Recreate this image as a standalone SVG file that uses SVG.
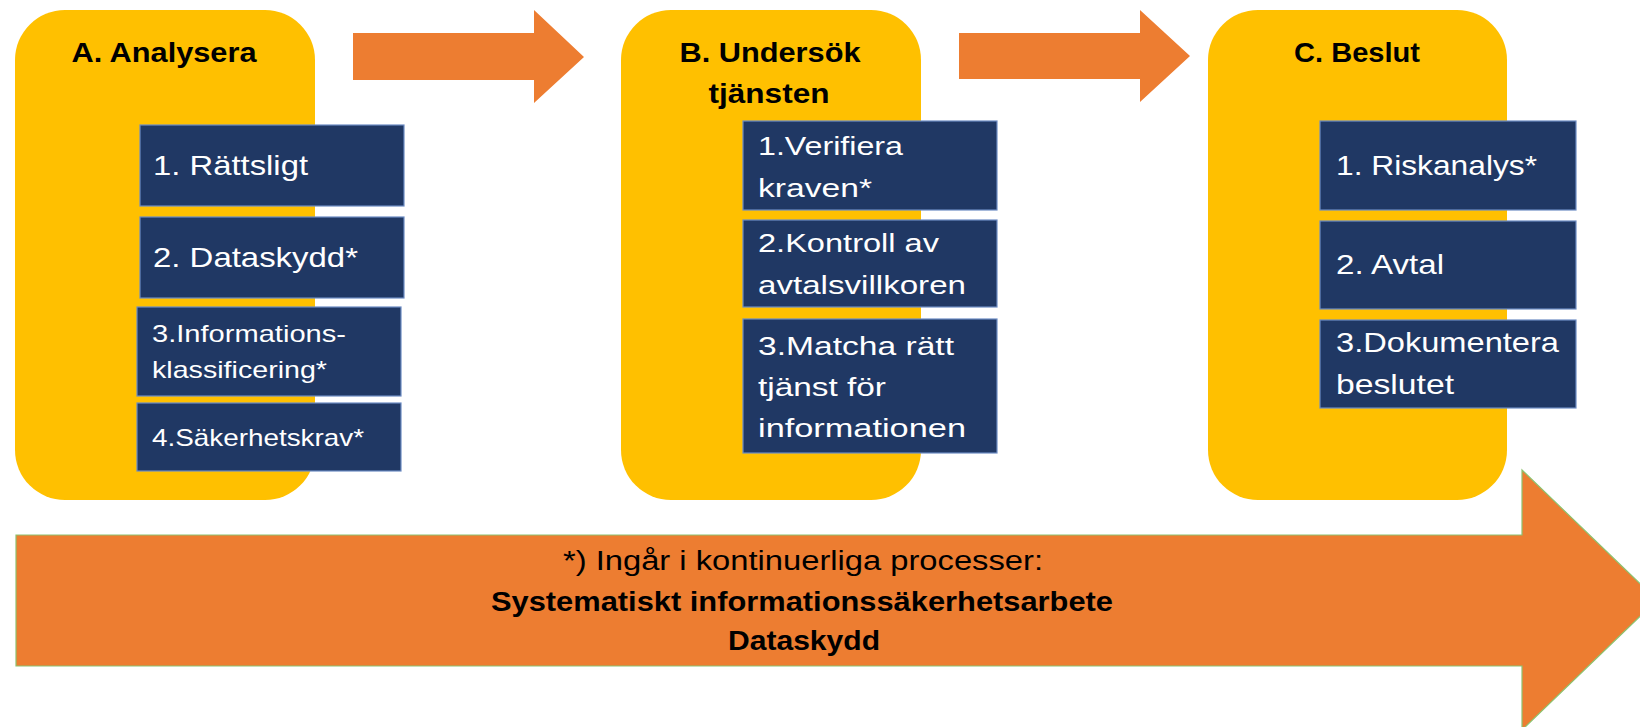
<svg xmlns="http://www.w3.org/2000/svg" width="1640" height="727" viewBox="0 0 1640 727">
<style>
.stage{fill:#FFC000}
.box{fill:#203864;stroke:#6D8CC4;stroke-width:1.2}
.arrow{fill:#ED7D31}
.big{fill:#ED7D31;stroke:#8DC26F;stroke-width:1.2}
.title{font-family:"Liberation Sans",Arial,sans-serif;font-weight:bold;font-size:28px;fill:#000;text-anchor:middle}
.t{font-family:"Liberation Sans",Arial,sans-serif;fill:#fff}
.foot{font-family:"Liberation Sans",Arial,sans-serif;font-size:27px;fill:#000;text-anchor:middle}
</style>
<rect width="1640" height="727" fill="#fff"/>
<g id="connectors">
<polygon class="arrow" points="353,33 534,33 534,10 584,57 534,103 534,80 353,80"/>
<polygon class="arrow" points="959,33 1140,33 1140,10 1190,56 1140,102 1140,79 959,79"/>
</g>
<g id="stageA">
<rect class="stage" x="15" y="10" width="300" height="490" rx="50" ry="50"/>
<text class="title" x="164" y="62" textLength="185" lengthAdjust="spacingAndGlyphs">A. Analysera</text>
</g>
<g id="stageB">
<rect class="stage" x="621" y="10" width="300" height="490" rx="50" ry="50"/>
<text class="title" x="770" y="62" textLength="181" lengthAdjust="spacingAndGlyphs">B. Undersök</text>
<text class="title" x="769" y="103" textLength="121" lengthAdjust="spacingAndGlyphs">tjänsten</text>
</g>
<g id="stageC">
<rect class="stage" x="1208" y="10" width="299" height="490" rx="50" ry="50"/>
<text class="title" x="1357" y="62" textLength="126" lengthAdjust="spacingAndGlyphs">C. Beslut</text>
</g>
<g id="A1">
<rect class="box" x="140" y="125" width="264" height="81"/>
<text class="t" x="153" y="175" font-size="28" textLength="155" lengthAdjust="spacingAndGlyphs">1. Rättsligt</text>
</g>
<g id="A2">
<rect class="box" x="140" y="217" width="264" height="81"/>
<text class="t" x="153" y="267" font-size="28" textLength="205" lengthAdjust="spacingAndGlyphs">2. Dataskydd*</text>
</g>
<g id="A3">
<rect class="box" x="137" y="307" width="264" height="89"/>
<text class="t" x="152" y="342" font-size="24" textLength="194" lengthAdjust="spacingAndGlyphs">3.Informations-</text>
<text class="t" x="152" y="378" font-size="24" textLength="175" lengthAdjust="spacingAndGlyphs">klassificering*</text>
</g>
<g id="A4">
<rect class="box" x="137" y="403" width="264" height="68"/>
<text class="t" x="152" y="446" font-size="24" textLength="212" lengthAdjust="spacingAndGlyphs">4.Säkerhetskrav*</text>
</g>
<g id="B1">
<rect class="box" x="743" y="121" width="254" height="89"/>
<text class="t" x="758" y="155" font-size="26" textLength="145" lengthAdjust="spacingAndGlyphs">1.Verifiera</text>
<text class="t" x="758" y="197" font-size="26" textLength="114" lengthAdjust="spacingAndGlyphs">kraven*</text>
</g>
<g id="B2">
<rect class="box" x="743" y="220" width="254" height="87"/>
<text class="t" x="758" y="252" font-size="26" textLength="181" lengthAdjust="spacingAndGlyphs">2.Kontroll av</text>
<text class="t" x="758" y="294" font-size="26" textLength="208" lengthAdjust="spacingAndGlyphs">avtalsvillkoren</text>
</g>
<g id="B3">
<rect class="box" x="743" y="319" width="254" height="134"/>
<text class="t" x="758" y="355" font-size="26" textLength="196" lengthAdjust="spacingAndGlyphs">3.Matcha rätt</text>
<text class="t" x="758" y="396" font-size="26" textLength="128" lengthAdjust="spacingAndGlyphs">tjänst för</text>
<text class="t" x="758" y="437" font-size="26" textLength="208" lengthAdjust="spacingAndGlyphs">informationen</text>
</g>
<g id="C1">
<rect class="box" x="1320" y="121" width="256" height="89"/>
<text class="t" x="1336" y="175" font-size="28" textLength="201" lengthAdjust="spacingAndGlyphs">1. Riskanalys*</text>
</g>
<g id="C2">
<rect class="box" x="1320" y="221" width="256" height="88"/>
<text class="t" x="1336" y="274" font-size="28" textLength="108" lengthAdjust="spacingAndGlyphs">2. Avtal</text>
</g>
<g id="C3">
<rect class="box" x="1320" y="320" width="256" height="88"/>
<text class="t" x="1336" y="352" font-size="28" textLength="223" lengthAdjust="spacingAndGlyphs">3.Dokumentera</text>
<text class="t" x="1336" y="394" font-size="28" textLength="118" lengthAdjust="spacingAndGlyphs">beslutet</text>
</g>
<g id="continuous">
<polygon class="big" points="16,535 1522,535 1522,470 1657,600 1522,730 1522,666 16,666"/>
<text class="foot" x="803" y="570" textLength="480" lengthAdjust="spacingAndGlyphs">*) Ingår i kontinuerliga processer:</text>
<text class="foot" x="802" y="611" font-weight="bold" textLength="622" lengthAdjust="spacingAndGlyphs">Systematiskt informationssäkerhetsarbete</text>
<text class="foot" x="804" y="650" font-weight="bold" textLength="152" lengthAdjust="spacingAndGlyphs">Dataskydd</text>
</g>
</svg>
